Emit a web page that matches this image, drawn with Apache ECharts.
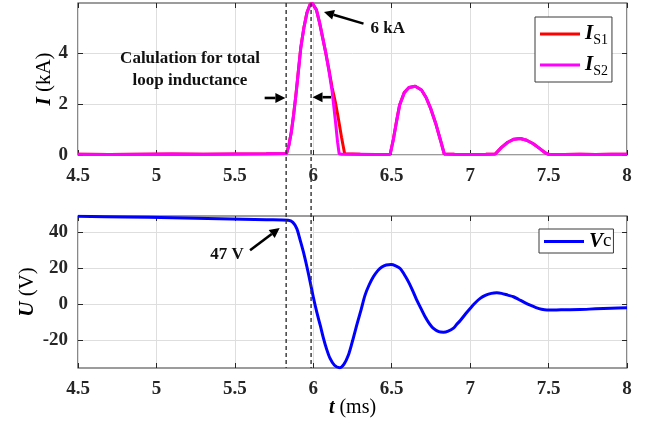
<!DOCTYPE html>
<html><head><meta charset="utf-8">
<script src="https://cdn.jsdelivr.net/npm/echarts@6/dist/echarts.min.js"></script>
<style>html,body{margin:0;padding:0;background:#fff}#c{width:647px;height:431px}</style>
</head><body><div id="c"></div>
<script>
// ---- data ----
const xTicks = [4.5, 5, 5.5, 6, 6.5, 7, 7.5, 8];
const iTicks = [0, 2, 4];
const uTicks = [-20, 0, 20, 40];
const markT = [5.827, 5.986];

const tI = [4.5, 4.7, 4.9, 5.1, 5.3, 5.5, 5.7, 5.83, 5.845, 5.86, 5.875, 5.89, 5.905, 5.92, 5.94, 5.96, 5.98, 5.995,
  6.02, 6.04, 6.06, 6.08, 6.10, 6.12, 6.14, 6.155, 6.165, 6.18, 6.20, 6.30, 6.40, 6.49, 6.51, 6.53, 6.55, 6.58,
  6.61, 6.65, 6.69, 6.72, 6.75, 6.78, 6.81, 6.835, 6.90, 7.00, 7.10, 7.16, 7.20, 7.24, 7.28, 7.32, 7.36, 7.40,
  7.44, 7.48, 7.50, 7.60, 7.70, 7.80, 7.90, 8.0];
const iS2 = [0.03, 0.02, 0.03, 0.04, 0.03, 0.04, 0.05, 0.06, 0.4, 0.9, 1.6, 2.4, 3.3, 4.2, 5.0, 5.6, 5.92, 5.95,
  5.7, 5.2, 4.6, 4.0, 3.3, 2.5, 1.4, 0.5, 0.05, 0.03, 0.03, 0.03, 0.02, 0.03, 0.6, 1.3, 1.95, 2.45,
  2.65, 2.7, 2.55, 2.25, 1.8, 1.25, 0.6, 0.04, 0.03, 0.02, 0.03, 0.04, 0.3, 0.5, 0.62, 0.65, 0.58, 0.45,
  0.27, 0.08, 0.03, 0.02, 0.03, 0.02, 0.03, 0.03];
const iS1 = [0.03, 0.02, 0.03, 0.04, 0.03, 0.04, 0.05, 0.06, 0.4, 0.9, 1.6, 2.4, 3.3, 4.2, 5.0, 5.6, 5.92, 5.95,
  5.7, 5.2, 4.6, 4.0, 3.35, 2.65, 2.1, 1.6, 1.25, 0.7, 0.05, 0.03, 0.02, 0.03, 0.6, 1.3, 1.95, 2.45,
  2.65, 2.7, 2.55, 2.25, 1.8, 1.25, 0.6, 0.04, 0.03, 0.02, 0.03, 0.04, 0.3, 0.5, 0.62, 0.65, 0.58, 0.45,
  0.27, 0.08, 0.03, 0.02, 0.03, 0.02, 0.03, 0.03];

const tV = [4.5, 4.8, 5.1, 5.4, 5.7, 5.84, 5.87, 5.895, 5.915, 5.937, 5.96, 5.98, 6.00, 6.022, 6.045, 6.065, 6.085,
  6.107, 6.135, 6.167, 6.195, 6.224, 6.25, 6.277, 6.305, 6.33, 6.355, 6.383, 6.41, 6.437, 6.465, 6.496, 6.525,
  6.554, 6.58, 6.607, 6.635, 6.66, 6.687, 6.713, 6.74, 6.766, 6.80, 6.83, 6.86, 6.894, 6.915, 6.936, 6.97, 7.00,
  7.03, 7.064, 7.10, 7.135, 7.17, 7.20, 7.24, 7.276, 7.31, 7.345, 7.383, 7.42, 7.455, 7.49, 7.55, 7.60, 7.70,
  7.80, 7.90, 8.0];
const vC = [48.8, 48.5, 48.0, 47.5, 46.9, 46.6, 45.5, 42, 36, 29, 20.5, 12.4, 4, -4.3, -12, -19, -25,
  -30.2, -34, -35.4, -33.5, -28.3, -20.5, -11.7, -3, 5, 10.5, 15.2, 18.5, 20.7, 21.8, 22, 21.3,
  19.8, 16.5, 12.4, 7.3, 2.2, -2.5, -7, -10.8, -13.5, -15.3, -15.6, -15, -13.3, -11.2, -9.2, -5.5, -2.4,
  0.5, 3.2, 5.0, 6.0, 6.3, 6.0, 5.0, 4.1, 2.6, 1.0, -0.6, -1.9, -2.8, -3.2, -3.2, -3.1, -3.0,
  -2.6, -2.3, -2.0];

const iMin = 0, iMax = 5.97, uMin = -35.5, uMax = 49;

// ---- chart ----
const FF = '"Liberation Serif","Times New Roman",serif';
const chart = echarts.init(document.getElementById('c'), null, {renderer: 'canvas'});
const zip = (a, b) => a.map((v, i) => [v, b[i]]);
const tickCol = '#262626';
const lbl = {show: true, fontFamily: FF, fontWeight: 'bold', fontSize: 19, color: tickCol};
function xa(gi, pos, showLabel) {
  return {type: 'value', gridIndex: gi, position: pos, min: 4.5, max: 8, interval: 0.5,
    axisLine: {show: false, onZero: false},
    axisTick: {show: true, inside: true, length: 5, lineStyle: {color: tickCol}},
    axisLabel: Object.assign({}, lbl, {show: showLabel, margin: 12, formatter: v => String(v)}),
    splitLine: {show: showLabel, lineStyle: {color: '#dedede', width: 1}}};
}
const option = {
  animation: false,
  backgroundColor: '#fff',
  grid: [
    {left: 78, right: 20, top: 3, height: 152, show: true, borderColor: '#3a3a3a', borderWidth: 1.2, backgroundColor: '#fff'},
    {left: 78, right: 20, top: 216, height: 152, show: true, borderColor: '#3a3a3a', borderWidth: 1.2, backgroundColor: '#fff'}
  ],
  xAxis: [
    xa(0, 'bottom', true),
    Object.assign(xa(1, 'bottom', true), {
      name: '{i|t} (ms)', nameLocation: 'middle', nameGap: 30, nameMoveOverlap: false,
      nameTextStyle: {fontFamily: FF, fontSize: 20, color: '#000',
        rich: {i: {fontFamily: FF, fontSize: 20, fontStyle: 'italic', fontWeight: 'bold', color: '#000'}}}}),
    xa(0, 'top', false),
    xa(1, 'top', false)
  ],
  yAxis: [
    {type: 'value', gridIndex: 0, min: iMin, max: iMax,
      name: '{i|I} (kA)', nameLocation: 'middle', nameGap: 23, nameMoveOverlap: false,
      nameTextStyle: {fontFamily: FF, fontSize: 21, color: '#000',
        rich: {i: {fontFamily: FF, fontSize: 21, fontStyle: 'italic', fontWeight: 'bold', color: '#000'}}},
      axisLine: {show: false, onZero: false},
      axisTick: {show: true, inside: true, length: 5, lineStyle: {color: tickCol}, customValues: iTicks},
      axisLabel: Object.assign({}, lbl, {margin: 10, customValues: iTicks}),
      splitLine: {show: true, lineStyle: {color: '#dedede'}}},
    {type: 'value', gridIndex: 1, min: uMin, max: uMax,
      name: '{i|U} (V)', nameLocation: 'middle', nameGap: 40, nameMoveOverlap: false,
      nameTextStyle: {fontFamily: FF, fontSize: 21, color: '#000',
        rich: {i: {fontFamily: FF, fontSize: 21, fontStyle: 'italic', fontWeight: 'bold', color: '#000'}}},
      axisLine: {show: false, onZero: false},
      axisTick: {show: true, inside: true, length: 5, lineStyle: {color: tickCol}, customValues: uTicks},
      axisLabel: Object.assign({}, lbl, {margin: 10, customValues: uTicks}),
      splitLine: {show: true, lineStyle: {color: '#dedede'}}},
    {type: 'value', gridIndex: 0, position: 'right', min: iMin, max: iMax,
      axisLine: {show: false, onZero: false}, axisLabel: {show: false}, splitLine: {show: false},
      axisTick: {show: true, inside: true, length: 5, lineStyle: {color: tickCol}, customValues: iTicks}},
    {type: 'value', gridIndex: 1, position: 'right', min: uMin, max: uMax,
      axisLine: {show: false, onZero: false}, axisLabel: {show: false}, splitLine: {show: false},
      axisTick: {show: true, inside: true, length: 5, lineStyle: {color: tickCol}, customValues: uTicks}}
  ],
  legend: [
    {data: ['IS1', 'IS2'], orient: 'vertical', left: 535, top: 17, icon: 'rect', itemWidth: 40, itemHeight: 3, itemGap: 5,
      padding: [4, 4, 4, 5], borderColor: '#3a3a3a', borderWidth: 1, backgroundColor: '#fff', borderRadius: 0,
      formatter: n => '{i|I}{s|' + n.slice(1) + '}',
      textStyle: {color: '#000', rich: {
        i: {fontFamily: FF, fontSize: 21, fontStyle: 'italic', fontWeight: 'bold', lineHeight: 26, color: '#000'},
        s: {fontFamily: FF, fontSize: 14, lineHeight: 26, padding: [12, 0, 0, 0], color: '#000'}}}},
    {data: ['Vc'], orient: 'vertical', left: 539, top: 229, icon: 'rect', itemWidth: 40, itemHeight: 3,
      padding: [2, 2, 1, 5], borderColor: '#3a3a3a', borderWidth: 1, backgroundColor: '#fff',
      formatter: n => '{i|V}{s|c}',
      textStyle: {color: '#000', rich: {
        i: {fontFamily: FF, fontSize: 21, fontStyle: 'italic', fontWeight: 'bold', lineHeight: 22, color: '#000'},
        s: {fontFamily: FF, fontSize: 19, lineHeight: 22, color: '#000'}}}}
  ],
  series: [
    {name: 'IS1', type: 'line', xAxisIndex: 0, yAxisIndex: 0, data: zip(tI, iS1), symbol: 'none',
      lineStyle: {color: '#ff0000', width: 3}, itemStyle: {color: '#ff0000'}, clip: true},
    {name: 'IS2', type: 'line', xAxisIndex: 0, yAxisIndex: 0, data: zip(tI, iS2), symbol: 'none',
      lineStyle: {color: '#ff00ff', width: 3}, itemStyle: {color: '#ff00ff'}, clip: true},
    {name: 'Vc', type: 'line', xAxisIndex: 1, yAxisIndex: 1, data: zip(tV, vC), symbol: 'none',
      smooth: 0.3,
      lineStyle: {color: '#0000ff', width: 3}, itemStyle: {color: '#0000ff'}, clip: true}
  ]
};
chart.setOption(option);

// ---- annotations (positions from data coordinates) ----
const P0 = (t, v) => chart.convertToPixel({xAxisIndex: 0, yAxisIndex: 0}, [t, v]);
const P1 = (t, v) => chart.convertToPixel({xAxisIndex: 1, yAxisIndex: 1}, [t, v]);
const g = [];
markT.forEach(t => {
  const a = P0(t, iMax), b = P1(t, uMin);
  g.push({type: 'line', shape: {x1: a[0], y1: a[1], x2: b[0], y2: b[1]},
    style: {stroke: '#333', lineWidth: 1.4, lineDash: [4, 3]}, z: 100});
});
function arrow(tail, tip) {
  const dx = tip[0] - tail[0], dy = tip[1] - tail[1];
  const L = Math.hypot(dx, dy), ux = dx / L, uy = dy / L;
  const hl = 10, hw = 5;
  const bx = tip[0] - ux * hl, by = tip[1] - uy * hl;
  g.push({type: 'line', shape: {x1: tail[0], y1: tail[1], x2: bx, y2: by},
    style: {stroke: '#000', lineWidth: 2.6}, z: 101});
  g.push({type: 'polygon', shape: {points: [[tip[0], tip[1]], [bx - uy * hw, by + ux * hw], [bx + uy * hw, by - ux * hw]]},
    style: {fill: '#000'}, z: 101});
}
function label(p, text) {
  g.push({type: 'text', x: p[0], y: p[1], z: 102,
    style: {text: text, fill: '#111', font: 'bold 17px ' + FF, lineHeight: 22,
      textAlign: 'center', textVerticalAlign: 'middle', align: 'center', verticalAlign: 'middle'}});
}
label(P0(5.214, 3.35), 'Calulation for total\nloop inductance');
arrow(P0(5.69, 2.24), P0(5.822, 2.24));
arrow(P0(6.113, 2.27), P0(5.995, 2.27));
arrow(P0(6.32, 5.16), P0(6.068, 5.62));
label(P0(6.475, 4.98), '6 kA');
arrow(P1(5.597, 30), P1(5.786, 42.3));
label(P1(5.45, 27.8), '47 V');
chart.setOption({graphic: g});
</script></body></html>
